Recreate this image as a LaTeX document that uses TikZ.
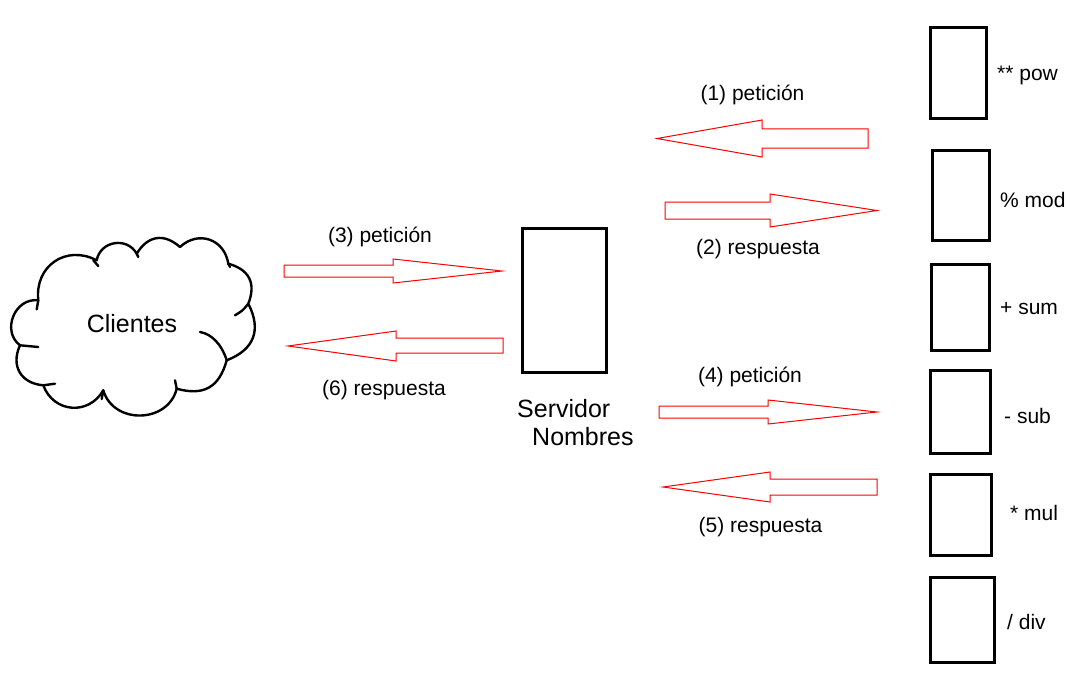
\documentclass[tikz,border=0pt]{standalone}
\usepackage{fontspec}
\setmainfont{Liberation Sans}
\usetikzlibrary{positioning}

\tikzset{
  caja/.style={draw,line width=3pt,inner sep=0pt},
  nube/.style={draw,line width=2.4pt,line join=round,line cap=round,looseness=1.25},
  flecha/.style={draw=red,line width=1pt,line join=miter},
  rotulo/.style={inner sep=0pt,font=\fontsize{21}{25}\selectfont},
  grande/.style={inner sep=0pt,font=\fontsize{25}{28}\selectfont},
}

\begin{document}
\begin{tikzpicture}[x=1pt,y=-1pt]
  \useasboundingbox (0,0) rectangle (1070,674);
  % nube de clientes
  \draw[nube] (38.3,300.3) to[bend left=62] (96.7,260.3)
    to[bend left=70] (136.7,253.7) to[bend left=50] (180,247)
    to[bend left=62] (228.3,263.7) to[bend left=48] (248.3,303.7)
    to[bend left=48] (226.7,360.3) to[bend left=45] (176.7,388.7)
    to[bend left=75] (103.3,390.3) to[bend left=65] (43.3,385.3)
    to[bend left=55] (20,345.3) to[bend left=75] cycle;
  \draw[nube] (38.3,300.3) -- (36.7,309.3);
  \draw[nube] (93.3,260.3) -- (98.3,266);
  \draw[nube] (136.7,253.7) -- (138.3,257);
  \draw[nube] (228.3,263.7) -- (230,267);
  \draw[nube] (248.3,303.7) to[bend left=10] (235,315.3);
  \draw[nube] (200,332) .. controls (212,334) and (222,345) .. (226.7,360.3);
  \draw[nube] (175,380.3) -- (176.7,388.7);
  \draw[nube] (103.3,390.3) -- (101.7,399);
  \draw[nube] (43.3,385.3) -- (55,383.7);
  \draw[nube] (20,345.3) -- (38.3,347);
  \node[grande] (clientes) at (132,324) {Clientes};
  % servidor de nombres
  \node[caja,minimum width=84pt,minimum height=144pt] (servidor) at (564.5,300.5) {};
  \node[grande,align=left,anchor=north west] (nombre) at (517,399)
        {Servidor\\\hspace*{15pt}Nombres};
  % servicios
  \node[caja,minimum width=56pt,minimum height=91pt] (pow) at (958.5,73) {};
  \node[caja,minimum width=57pt,minimum height=90pt] (mod) at (961,195.5) {};
  \node[caja,minimum width=58pt,minimum height=86pt] (sum) at (960.5,307.5) {};
  \node[caja,minimum width=60pt,minimum height=83pt] (sub) at (960.5,412) {};
  \node[caja,minimum width=61pt,minimum height=81pt] (mul) at (961,515) {};
  \node[caja,minimum width=64pt,minimum height=85pt] (div) at (962.5,620) {};
  \node[rotulo,anchor=west] (lpow) at (997,75) {** pow};
  \node[rotulo,anchor=west] (lmod) at (1000,200) {\% mod};
  \node[rotulo,anchor=west] (lsum) at (1000,309) {+ sum};
  \node[rotulo,anchor=west] (lsub) at (1004,416) {- sub};
  \node[rotulo,anchor=west] (lmul) at (1010,513) {* mul};
  \node[rotulo,anchor=west] (ldiv) at (1007,622) {/ div};
  % flechas
  \draw[flecha] (868,129) -- (762,129) -- (762,120) -- (657,138.5)
    -- (762,157) -- (762,148) -- (868,148) -- cycle;
  \draw[flecha] (665,202) -- (770,202) -- (770,194) -- (877,210.5)
    -- (770,227) -- (770,219) -- (665,219) -- cycle;
  \draw[flecha] (284,265) -- (393,265) -- (393,259) -- (502,271)
    -- (393,283) -- (393,277) -- (284,277) -- cycle;
  \draw[flecha] (503,338) -- (396,338) -- (396,331) -- (288,346)
    -- (396,361) -- (396,353) -- (503,353) -- cycle;
  \draw[flecha] (659,406) -- (768,406) -- (768,400) -- (877,412)
    -- (768,424) -- (768,418) -- (659,418) -- cycle;
  \draw[flecha] (877,479) -- (770,479) -- (770,472) -- (663,487)
    -- (770,502) -- (770,495) -- (877,495) -- cycle;
  % rotulos de las flechas
  \node[rotulo] (p1) at (752.5,95) {(1) petición};
  \node[rotulo] (r2) at (758,249) {(2) respuesta};
  \node[rotulo] (p3) at (380,237) {(3) petición};
  \node[rotulo] (p4) at (750,377) {(4) petición};
  \node[rotulo] (r5) at (760.5,527) {(5) respuesta};
  \node[rotulo] (r6) at (384,390) {(6) respuesta};
\end{tikzpicture}
\end{document}
